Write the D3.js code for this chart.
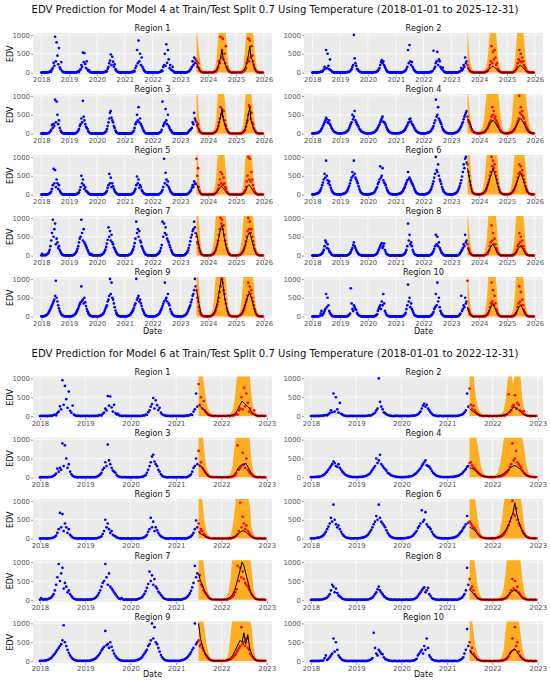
<!DOCTYPE html>
<html>
<head>
<meta charset="utf-8">
<script src="https://cdn.jsdelivr.net/npm/d3@7"></script>
<style>
  body { margin: 0; background: #fff; }
  svg text { font-family: "DejaVu Sans", sans-serif; }
</style>
</head>
<body>
<div id="chart"></div>
<script>
/* DATA */
// observed EDV, 3 readings a month (1st, 11th, 21st), 2018-01 .. 2025-12, one line per year
const region1Edv = [
  0,5,0, 10,0,5, 0,10,5, 15,10,30, 40,20,80, 120,260,180, 950,300,800, 450,220,650, 140,90,280, 40,20,10, 5,10,0, 5,0,10,
  0,5,10, 0,5,0, 10,0,5, 10,5,20, 30,15,60, 90,200,150, 530,280,520, 230,120,300, 80,40,60, 20,10,5, 0,10,5, 0,5,0,
  5,0,10, 0,5,0, 5,10,0, 10,20,15, 40,30,100, 150,250,320, 480,200,420, 290,160,220, 90,50,30, 20,10,5, 10,0,5, 0,10,5,
  0,5,0, 10,0,5, 0,5,10, 20,10,30, 50,30,120, 180,600,250, 850,300,500, 200,400,150, 100,60,30, 20,10,5, 0,5,10, 0,5,0,
  5,0,10, 0,10,5, 5,0,10, 15,20,30, 60,40,150, 200,500,180, 750,260,600, 350,120,200, 80,60,150, 40,10,5, 0,5,10, 5,0,5,
  0,5,0, 10,0,5, 0,5,10, 10,20,30, 50,80,100, 150,300,200, 400,250,350, 300,150,250, 120,60,30, 20,10,5, 0,5,10, 5,0,0,
  0,5,10, 0,5,0, 10,5,20, 30,20,60, 100,150,300, 250,950,400, 600,900,350, 500,250,700, 150,100,60, 30,20,10, 5,0,10, 0,5,0,
  5,0,10, 0,5,0, 10,0,15, 20,30,50, 80,120,250, 350,900,300, 850,400,700, 450,300,200, 120,80,40, 20,10,5, 0,10,5, 0,5,0
];
const region2Edv = [
  0,5,0, 5,0,10, 0,5,10, 10,15,20, 30,20,50, 80,150,100, 600,120,500, 180,90,350, 60,40,20, 10,5,0, 5,0,10, 0,5,0,
  5,0,5, 0,10,0, 5,0,10, 10,20,15, 20,40,60, 90,150,200, 1000,380,250, 180,100,80, 50,30,20, 10,5,0, 0,5,10, 5,0,5,
  0,5,0, 10,0,5, 0,5,10, 15,10,20, 30,50,80, 120,200,280, 330,250,300, 200,150,100, 60,30,20, 10,5,0, 5,10,0, 0,5,0,
  5,0,10, 0,5,0, 10,0,5, 10,20,30, 40,60,100, 150,600,250, 730,300,200, 280,150,100, 60,40,20, 10,5,0, 0,10,5, 0,5,0,
  0,5,0, 5,0,10, 0,10,5, 20,15,30, 50,580,100, 150,250,300, 550,200,350, 300,150,120, 80,130,40, 20,10,5, 0,5,0, 10,0,5,
  5,0,10, 0,5,0, 5,10,0, 10,20,30, 40,120,60, 100,200,150, 400,250,300, 200,120,100, 50,30,20, 10,5,0, 5,0,10, 0,5,0,
  0,5,10, 0,5,0, 10,5,15, 20,30,50, 80,120,200, 300,700,250, 550,350,600, 400,200,250, 100,60,40, 20,10,5, 0,10,5, 5,0,5,
  5,0,10, 0,5,0, 10,0,15, 20,30,60, 90,150,250, 350,600,300, 500,280,400, 300,200,150, 100,50,30, 15,10,5, 0,5,10, 0,5,0
];
const region3Edv = [
  0,5,0, 5,0,10, 0,5,10, 10,20,40, 60,100,230, 150,250,200, 900,300,850, 500,250,350, 150,80,40, 20,10,5, 0,5,10, 0,5,0,
  5,0,10, 0,5,0, 10,0,5, 15,30,50, 80,120,200, 250,400,300, 870,450,350, 250,180,150, 120,60,30, 15,10,5, 0,10,5, 0,5,0,
  0,5,0, 10,0,5, 0,5,10, 15,20,40, 60,120,200, 300,400,550, 600,420,350, 300,200,150, 80,40,20, 10,5,0, 5,0,10, 0,5,0,
  5,0,10, 0,5,0, 10,5,0, 10,30,50, 80,150,250, 300,500,350, 700,300,400, 250,200,150, 100,60,30, 15,10,5, 0,5,10, 5,0,5,
  0,5,0, 10,0,5, 0,10,5, 20,30,50, 100,850,200, 250,300,650, 350,250,500, 200,150,100, 80,40,20, 10,5,0, 5,10,0, 0,5,0,
  5,0,10, 0,5,0, 5,10,0, 15,30,60, 80,100,120, 150,300,250, 550,400,350, 300,200,250, 120,60,30, 15,10,5, 0,5,10, 0,5,0,
  0,5,10, 0,5,0, 10,5,20, 30,50,80, 120,200,300, 400,700,500, 650,450,600, 350,250,200, 120,80,40, 20,10,5, 0,10,5, 5,0,5,
  5,0,10, 0,5,0, 10,0,15, 25,40,70, 100,180,280, 350,500,750, 700,400,550, 300,250,150, 100,60,30, 15,10,5, 0,5,10, 0,5,0
];
const region4Edv = [
  5,10,5, 10,15,10, 20,15,30, 40,60,80, 120,150,200, 250,300,350, 420,380,300, 280,350,250, 200,150,120, 80,60,40, 30,20,15, 10,5,10,
  10,5,10, 15,10,20, 20,30,40, 60,80,100, 150,200,250, 300,500,380, 450,600,350, 300,250,220, 180,120,100, 70,50,40, 30,20,15, 10,10,5,
  5,10,5, 10,15,10, 20,30,30, 50,70,90, 120,160,200, 240,300,350, 400,450,320, 300,280,230, 170,120,90, 60,40,30, 20,15,10, 10,5,10,
  10,5,10, 15,10,15, 20,25,35, 45,60,80, 100,140,180, 220,280,300, 380,400,320, 260,240,200, 150,110,80, 60,40,30, 20,15,10, 10,5,5,
  5,10,5, 10,15,20, 25,30,40, 60,80,120, 150,200,280, 350,900,450, 500,700,400, 350,300,250, 180,120,90, 60,40,30, 20,15,10, 10,5,10,
  10,5,10, 15,10,20, 25,35,50, 70,90,120, 160,200,260, 300,380,450, 500,550,600, 450,350,300, 250,180,120, 80,60,40, 30,20,15, 10,10,5,
  10,5,10, 15,20,25, 30,40,60, 80,120,150, 200,250,300, 350,450,700, 500,600,400, 450,350,300, 250,200,150, 100,70,50, 30,20,15, 10,10,5,
  10,5,10, 15,20,25, 30,45,60, 90,120,160, 200,260,320, 400,1000,550, 700,500,600, 450,400,300, 250,180,140, 90,60,40, 30,20,15, 10,5,10
];
const region5Edv = [
  0,5,0, 10,0,5, 0,5,10, 10,20,30, 50,80,150, 250,680,300, 650,200,400, 300,150,250, 100,60,30, 15,10,5, 0,5,10, 5,0,5,
  5,0,10, 0,5,0, 10,0,5, 10,15,30, 40,60,120, 200,500,300, 400,250,150, 200,100,80, 60,30,20, 10,5,0, 5,10,0, 0,5,0,
  0,5,0, 5,10,0, 5,0,10, 15,20,40, 60,100,180, 250,550,300, 450,200,300, 220,150,100, 60,40,20, 10,5,0, 0,5,10, 5,0,5,
  5,0,10, 0,5,0, 10,5,0, 10,25,40, 60,100,150, 250,480,300, 400,180,250, 200,120,90, 50,30,20, 10,5,0, 5,0,10, 0,5,0,
  0,5,0, 10,0,5, 0,10,5, 20,30,50, 80,120,200, 950,300,580, 400,250,350, 200,150,100, 60,40,20, 10,5,0, 5,10,0, 0,5,0,
  5,0,10, 0,5,0, 5,10,0, 15,20,40, 60,90,120, 180,250,200, 350,280,300, 950,500,700, 200,100,40, 15,10,5, 0,5,10, 0,5,0,
  0,5,10, 0,5,0, 10,5,15, 20,40,60, 100,150,250, 400,600,300, 550,250,450, 300,200,150, 80,50,30, 15,10,5, 0,10,5, 5,0,5,
  5,0,10, 0,5,0, 10,0,15, 20,40,70, 120,200,350, 500,1000,400, 950,350,600, 400,250,150, 80,50,30, 15,10,5, 0,5,10, 0,5,0
];
const region6Edv = [
  5,10,5, 10,15,20, 25,30,45, 60,90,130, 180,250,320, 400,550,450, 900,500,380, 300,350,250, 180,120,80, 50,30,20, 15,10,5, 10,5,10,
  10,5,10, 15,20,25, 35,45,60, 90,130,180, 230,300,380, 450,600,500, 900,550,450, 400,350,300, 220,150,100, 60,40,25, 15,10,10, 5,10,5,
  5,10,5, 10,20,25, 30,40,55, 80,120,160, 200,280,330, 400,750,450, 500,700,380, 320,300,250, 180,120,80, 50,30,20, 15,10,5, 10,5,10,
  10,5,10, 15,20,25, 30,45,60, 90,130,170, 210,270,320, 380,600,420, 450,400,350, 300,270,220, 160,110,70, 45,30,20, 15,10,5, 10,5,5,
  5,10,5, 15,20,30, 40,55,70, 110,150,210, 280,350,450, 550,1000,650, 600,800,500, 400,350,280, 200,140,90, 60,40,25, 15,10,10, 5,10,5,
  10,5,10, 15,20,30, 40,55,80, 120,170,230, 300,380,480, 600,800,700, 950,1000,850, 800,600,500, 350,250,150, 80,50,30, 20,15,10, 10,5,10,
  10,5,10, 15,20,30, 45,60,90, 130,180,250, 320,400,500, 600,1000,750, 900,700,800, 600,500,400, 300,200,130, 70,45,30, 20,15,10, 10,5,10,
  10,5,10, 15,20,30, 40,55,80, 120,160,220, 280,350,450, 550,800,600, 750,550,650, 500,400,320, 220,150,100, 60,40,25, 15,10,10, 5,10,5
];
const region7Edv = [
  5,50,10, 5,20,10, 15,30,40, 60,100,150, 250,400,600, 950,500,700, 850,300,450, 350,200,250, 150,100,60, 30,20,10, 5,10,5, 10,5,0,
  5,10,5, 10,5,15, 20,30,50, 80,120,180, 250,350,450, 500,950,600, 400,700,350, 300,250,200, 150,100,60, 30,20,50, 10,5,10, 5,10,5,
  5,10,5, 10,5,15, 20,35,50, 70,110,160, 230,320,420, 750,500,650, 400,550,350, 300,220,180, 130,90,50, 30,20,10, 5,10,5, 10,5,0,
  5,10,5, 10,5,15, 25,35,50, 80,120,170, 240,330,450, 900,600,700, 500,650,400, 350,250,200, 150,100,60, 30,20,10, 5,10,5, 10,5,0,
  5,10,5, 10,5,15, 25,40,60, 90,130,200, 280,900,500, 850,600,750, 550,450,400, 350,280,220, 150,100,60, 30,20,10, 5,10,5, 10,5,0,
  5,10,5, 10,5,15, 25,40,60, 90,140,200, 280,380,480, 550,650,700, 900,750,600, 500,350,300, 200,130,80, 40,25,15, 5,10,5, 10,5,0,
  5,10,5, 10,15,20, 30,45,70, 100,150,220, 300,400,550, 700,1000,850, 950,700,800, 550,400,300, 200,130,80, 40,25,15, 10,5,10, 5,10,5,
  5,10,5, 10,15,20, 30,45,70, 100,150,210, 280,380,500, 650,1000,700, 900,600,700, 500,380,280, 180,120,70, 40,25,15, 10,5,10, 5,10,5
];
const region8Edv = [
  0,5,0, 5,0,10, 0,5,10, 10,20,30, 40,60,100, 150,250,400, 350,200,300, 180,120,90, 60,30,20, 10,5,0, 5,0,10, 0,5,0,
  5,0,10, 0,5,0, 10,0,5, 10,15,30, 40,60,100, 150,200,280, 350,250,200, 150,100,70, 40,25,15, 10,5,0, 5,10,0, 0,5,0,
  0,5,0, 5,10,0, 5,0,10, 15,20,40, 60,100,150, 200,250,300, 330,200,250, 320,150,100, 50,30,20, 10,5,0, 0,5,10, 5,0,5,
  5,0,10, 0,5,0, 10,5,0, 10,25,40, 60,100,150, 250,850,400, 550,300,350, 250,150,100, 50,30,20, 10,5,0, 5,0,10, 0,5,0,
  0,5,0, 10,0,5, 0,10,5, 20,30,50, 80,120,180, 250,550,300, 500,250,350, 200,150,100, 60,40,20, 10,5,0, 5,10,0, 0,5,0,
  5,0,10, 0,5,0, 5,10,0, 15,30,50, 80,120,150, 200,300,250, 550,350,400, 300,200,150, 80,50,30, 15,10,5, 0,5,10, 0,5,0,
  0,5,10, 0,5,0, 10,5,15, 20,40,60, 100,150,250, 350,800,400, 600,300,450, 300,200,150, 80,50,30, 15,10,5, 0,10,5, 5,0,5,
  5,0,10, 0,5,0, 10,0,15, 20,40,60, 90,150,250, 300,600,350, 500,250,400, 250,180,120, 70,40,25, 15,10,5, 0,5,10, 0,5,0
];
const region9Edv = [
  5,10,5, 10,15,20, 30,40,60, 80,120,160, 200,250,300, 350,400,450, 550,950,500, 400,300,220, 150,100,60, 40,25,15, 10,5,10, 5,10,5,
  5,10,5, 10,15,25, 35,45,65, 90,130,170, 220,280,330, 380,800,420, 450,350,500, 380,280,200, 140,90,60, 35,20,15, 10,5,10, 5,10,5,
  5,10,5, 10,20,25, 40,50,70, 100,150,200, 250,300,400, 450,550,1000, 600,900,500, 450,350,250, 160,100,60, 35,20,15, 10,5,10, 5,10,5,
  5,10,5, 10,20,25, 35,50,70, 100,140,180, 230,300,350, 1000,450,500, 550,400,450, 350,280,200, 150,100,60, 35,20,15, 10,5,10, 5,10,5,
  5,10,5, 10,15,25, 35,45,65, 90,130,170, 220,280,340, 400,900,450, 500,400,600, 350,300,200, 140,90,60, 35,20,15, 10,5,10, 5,10,5,
  5,10,5, 10,15,25, 35,50,70, 100,150,200, 250,300,380, 450,550,600, 700,1000,800, 700,500,400, 250,150,90, 45,25,15, 10,5,10, 5,10,5,
  5,10,5, 10,20,30, 45,60,90, 130,180,250, 320,400,500, 650,800,1000, 1000,900,700, 600,450,350, 220,140,80, 40,25,15, 10,5,10, 5,10,5,
  5,10,5, 10,20,30, 45,60,90, 120,170,230, 300,380,450, 550,900,650, 800,600,700, 500,400,300, 200,130,80, 40,25,15, 10,5,10, 5,10,5
];
const region10Edv = [
  0,5,0, 5,0,10, 0,5,10, 10,20,80, 150,30,60, 100,150,200, 600,250,500, 300,150,100, 60,30,20, 10,5,0, 5,0,10, 0,5,0,
  5,0,10, 0,5,0, 10,0,5, 10,15,30, 50,80,750, 350,200,150, 300,250,200, 180,100,60, 40,25,15, 10,5,0, 5,10,0, 0,5,0,
  0,5,0, 5,10,0, 5,0,10, 15,20,40, 60,150,200, 250,300,200, 400,300,600, 350,150,100, 50,30,20, 10,5,0, 0,5,10, 5,0,5,
  5,0,10, 0,5,0, 10,5,0, 10,25,40, 60,100,200, 300,850,400, 500,250,350, 200,150,100, 50,30,20, 10,5,0, 5,0,10, 0,5,0,
  0,5,0, 10,0,5, 0,10,5, 20,30,50, 80,120,200, 250,600,300, 900,400,500, 250,150,100, 60,40,20, 10,5,0, 5,10,0, 0,5,0,
  5,0,10, 0,5,0, 5,10,0, 15,30,50, 80,550,150, 200,300,250, 500,350,400, 950,200,150, 80,50,30, 15,10,5, 0,5,10, 0,5,0,
  0,5,10, 0,5,0, 10,5,15, 20,40,60, 100,150,250, 350,900,400, 700,300,550, 350,200,150, 80,50,30, 15,10,5, 0,10,5, 5,0,5,
  5,0,10, 0,5,0, 10,0,15, 20,40,60, 90,150,250, 350,800,400, 650,300,450, 300,180,120, 70,40,25, 15,10,5, 0,5,10, 0,5,0
];

// Model 4: prediction and upper bound, twice a month (1st, 16th) from 2023-08 to 2025-12
const region1PredM4 = [
  250,180, 100,50, 20,10, 5,5, 0,5,
  0,5, 0,5, 10,20, 30,60, 100,200, 300,450, 600,350, 300,200, 120,60, 30,15, 5,5, 0,5,
  0,5, 0,5, 10,20, 40,80, 120,220, 350,500, 700,400, 350,220, 120,60, 25,10, 5,5, 0,5
];
const region1UpperM4 = [
  1200,900, 600,350, 150,80, 40,30, 20,20,
  20,20, 25,30, 50,80, 150,300, 600,1100, 1200,1200, 1200,1200, 1200,1100, 700,350, 150,80, 40,30, 20,20,
  20,20, 25,30, 50,80, 150,350, 700,1100, 1200,1200, 1200,1200, 1200,1000, 600,300, 120,60, 40,30, 20,20
];
const region2PredM4 = [
  120,80, 50,30, 15,10, 5,5, 0,5,
  0,5, 0,5, 10,15, 25,40, 60,100, 130,160, 170,140, 120,90, 60,35, 20,10, 5,5, 0,5,
  0,5, 0,5, 10,15, 25,45, 70,110, 150,200, 190,160, 130,90, 60,35, 20,10, 5,5, 0,5
];
const region2UpperM4 = [
  1200,700, 350,200, 100,60, 40,30, 20,20,
  20,20, 25,30, 50,80, 150,300, 600,1000, 1200,1200, 1200,1200, 1200,900, 500,250, 120,60, 40,30, 20,20,
  20,20, 25,30, 50,80, 150,350, 700,1100, 1200,1200, 1200,1200, 1100,800, 400,200, 100,50, 40,30, 20,20
];
const region3PredM4 = [
  250,180, 100,50, 20,10, 5,5, 0,5,
  0,5, 0,5, 10,20, 40,70, 120,220, 350,500, 650,400, 280,180, 100,50, 20,10, 5,5, 0,5,
  0,5, 0,5, 10,20, 40,80, 130,250, 400,550, 700,350, 250,150, 80,40, 20,10, 5,5, 0,5
];
const region3UpperM4 = [
  1200,1000, 500,250, 100,60, 40,30, 20,20,
  20,20, 25,30, 60,100, 200,400, 900,1200, 1200,1200, 1200,1200, 1000,700, 400,200, 100,50, 30,25, 20,20,
  20,20, 25,30, 60,100, 200,450, 900,1200, 1200,1200, 1200,1100, 800,600, 300,150, 80,40, 30,25, 20,20
];
const region4PredM4 = [
  400,350, 280,200, 120,70, 40,25, 15,10,
  10,15, 20,30, 45,70, 100,140, 190,240, 290,330, 350,320, 280,230, 170,120, 70,40, 25,15, 10,10,
  10,15, 20,30, 45,75, 110,150, 200,260, 320,380, 400,350, 300,240, 170,120, 70,40, 25,15, 10,10
];
const region4UpperM4 = [
  1200,900, 500,300, 150,80, 50,40, 30,30,
  60,80, 120,200, 350,600, 900,1200, 1200,1200, 1200,1200, 1200,1200, 1200,1200, 1200,900, 600,350, 150,80, 60,50,
  60,80, 120,200, 350,650, 1000,1200, 1200,1200, 1200,1200, 1200,1200, 1200,1200, 1100,800, 500,300, 120,70, 50,40
];
const region5PredM4 = [
  300,200, 100,50, 15,10, 5,5, 0,5,
  0,5, 0,5, 10,15, 30,50, 80,130, 180,220, 200,170, 130,90, 50,25, 10,5, 5,5, 0,5,
  0,5, 0,5, 10,15, 30,55, 90,150, 220,260, 240,190, 140,90, 50,25, 10,5, 5,5, 0,5
];
const region5UpperM4 = [
  1200,1000, 500,200, 80,40, 30,20, 20,20,
  20,20, 25,30, 60,100, 250,500, 1000,1200, 1200,1200, 1200,1200, 1100,700, 300,150, 60,40, 30,20, 20,20,
  20,20, 25,30, 50,80, 200,400, 900,1200, 1200,1200, 1200,1200, 900,500, 250,120, 60,40, 30,20, 20,20
];
const region6PredM4 = [
  700,550, 350,200, 80,40, 20,15, 10,10,
  10,15, 25,35, 60,100, 150,220, 300,400, 500,600, 700,600, 500,380, 250,150, 70,40, 20,15, 10,10,
  10,15, 25,35, 55,90, 140,200, 270,350, 450,520, 550,480, 400,300, 200,120, 60,30, 20,15, 10,10
];
const region6UpperM4 = [
  1200,1200, 1000,600, 250,120, 60,40, 30,30,
  30,40, 70,120, 250,500, 900,1200, 1200,1200, 1200,1200, 1200,1200, 1200,1200, 900,500, 200,100, 50,40, 30,30,
  30,40, 70,120, 250,500, 900,1200, 1200,1200, 1200,1200, 1200,1200, 1200,1100, 800,400, 180,90, 50,40, 30,30
];
const region7PredM4 = [
  600,450, 280,150, 50,25, 10,10, 5,10,
  5,10, 15,25, 40,70, 120,200, 300,450, 600,750, 800,650, 450,300, 170,90, 35,20, 10,10, 5,10,
  5,10, 15,25, 40,70, 110,180, 260,380, 500,600, 620,500, 380,260, 150,80, 30,15, 10,10, 5,10
];
const region7UpperM4 = [
  1200,1200, 900,500, 200,100, 50,40, 30,30,
  30,40, 60,100, 200,400, 800,1200, 1200,1200, 1200,1200, 1200,1200, 1200,1100, 700,350, 150,80, 40,30, 30,30,
  30,40, 60,100, 200,400, 800,1200, 1200,1200, 1200,1200, 1200,1200, 1200,1000, 600,300, 130,70, 40,30, 30,30
];
const region8PredM4 = [
  200,140, 70,35, 12,8, 5,5, 0,5,
  0,5, 0,5, 10,20, 35,60, 100,160, 230,280, 300,250, 180,120, 60,30, 12,8, 5,5, 0,5,
  0,5, 0,5, 10,20, 35,60, 90,140, 200,240, 250,210, 160,100, 50,25, 12,8, 5,5, 0,5
];
const region8UpperM4 = [
  1200,800, 400,200, 80,40, 30,20, 20,20,
  20,20, 25,30, 60,120, 300,600, 1100,1200, 1200,1200, 1200,1200, 1200,900, 400,200, 80,40, 30,20, 20,20,
  20,20, 25,30, 60,120, 300,600, 1100,1200, 1200,1200, 1200,1200, 1100,800, 350,150, 70,40, 30,20, 20,20
];
const region9PredM4 = [
  700,550, 350,200, 80,40, 15,10, 5,10,
  5,10, 20,30, 50,90, 150,250, 380,550, 750,950, 1000,800, 550,380, 220,120, 50,25, 15,10, 5,10,
  5,10, 20,30, 50,85, 140,220, 320,420, 520,600, 620,520, 420,300, 180,100, 45,25, 15,10, 5,10
];
const region9UpperM4 = [
  1200,1200, 900,500, 200,100, 50,40, 30,30,
  30,40, 60,100, 200,450, 900,1200, 1200,1200, 1200,1200, 1200,1200, 1200,1100, 700,350, 150,80, 40,30, 30,30,
  30,40, 60,100, 200,450, 900,1200, 1200,1200, 1200,1200, 1200,1200, 1200,1000, 600,300, 130,70, 40,30, 30,30
];
const region10PredM4 = [
  250,150, 70,35, 12,8, 5,5, 0,5,
  0,5, 0,5, 10,20, 35,60, 100,170, 250,320, 350,280, 200,130, 60,30, 12,8, 5,5, 0,5,
  0,5, 0,5, 10,20, 35,60, 100,160, 230,290, 300,250, 170,110, 50,25, 12,8, 5,5, 0,5
];
const region10UpperM4 = [
  1200,800, 400,200, 80,40, 30,20, 20,20,
  20,20, 25,30, 60,120, 300,600, 1100,1200, 1200,1200, 1200,1200, 1200,800, 350,150, 70,40, 30,20, 20,20,
  20,20, 25,30, 60,120, 300,650, 1100,1200, 1200,1200, 1200,1200, 1100,700, 300,150, 70,40, 30,20, 20,20
];

// Model 6: prediction and upper bound, twice a month (1st, 16th) from 2021-07 to 2022-12
const region1PredM6 = [
  300,250, 200,150, 80,40, 20,10, 5,5, 0,5,
  0,5, 0,5, 10,15, 30,60, 100,200, 300,400, 350,300, 250,200, 100,50, 20,10, 5,5, 0,5
];
const region1UpperM6 = [
  1200,1200, 1100,800, 400,200, 100,50, 30,20, 20,20,
  20,20, 20,30, 50,80, 150,400, 900,1200, 1200,1200, 1200,1200, 1200,1100, 500,200, 80,40, 30,20, 20,20
];
const region2PredM6 = [
  200,150, 120,80, 50,30, 15,10, 5,5, 0,5,
  0,5, 0,5, 10,15, 25,40, 70,120, 180,220, 250,200, 160,120, 60,30, 15,10, 5,5, 0,5
];
const region2UpperM6 = [
  1200,1100, 1200,600, 300,150, 80,40, 30,20, 20,20,
  20,20, 20,30, 40,70, 150,400, 900,1200, 1200,800, 1200,1200, 1200,1000, 400,150, 60,30, 20,20, 20,20
];
const region3PredM6 = [
  350,300, 250,180, 90,40, 15,10, 5,5, 0,5,
  0,5, 0,5, 10,20, 40,80, 150,250, 300,350, 320,380, 280,200, 90,40, 15,10, 5,5, 0,5
];
const region3UpperM6 = [
  1200,1200, 1200,700, 300,150, 60,40, 30,20, 20,20,
  20,20, 20,30, 50,100, 300,800, 1200,1200, 1200,1200, 1200,1200, 1200,1000, 400,150, 60,30, 20,20, 20,20
];
const region4PredM6 = [
  250,240, 220,180, 140,100, 60,35, 20,15, 10,10,
  10,15, 20,30, 45,70, 100,140, 180,230, 270,300, 310,290, 250,200, 150,100, 60,35, 20,15, 10,10
];
const region4UpperM6 = [
  1200,1200, 1200,1200, 900,600, 300,150, 70,40, 30,30,
  30,40, 80,150, 300,600, 1000,1200, 1200,1200, 1200,1200, 1200,1200, 1200,1200, 1000,700, 350,150, 60,40, 30,30
];
const region5PredM6 = [
  160,130, 100,70, 40,20, 10,5, 5,5, 0,5,
  0,5, 0,5, 10,15, 30,50, 80,130, 170,210, 200,170, 120,80, 40,20, 10,5, 5,5, 0,5
];
const region5UpperM6 = [
  1200,1200, 1000,500, 200,100, 50,30, 20,20, 20,20,
  20,20, 20,30, 50,90, 300,700, 1200,1200, 1200,1200, 1200,1200, 1200,900, 300,120, 50,30, 20,20, 20,20
];
const region6PredM6 = [
  300,280, 250,200, 130,80, 40,20, 10,10, 5,10,
  10,15, 25,35, 60,100, 150,220, 300,400, 550,700, 950,650, 450,300, 180,100, 40,20, 10,10, 5,10
];
const region6UpperM6 = [
  1200,1200, 1200,1000, 600,300, 120,60, 30,20, 20,20,
  20,30, 60,100, 200,450, 900,1200, 1200,1200, 1200,1200, 1200,1200, 1200,1100, 700,300, 100,50, 30,20, 20,20
];
const region7PredM6 = [
  700,500, 400,250, 150,80, 30,15, 10,10, 5,10,
  5,10, 15,25, 40,80, 150,250, 400,600, 800,1000, 900,700, 500,300, 150,80, 30,15, 10,10, 5,10
];
const region7UpperM6 = [
  1200,1200, 1200,800, 400,200, 80,40, 30,20, 20,20,
  20,30, 50,100, 250,600, 1200,1200, 1200,1200, 1200,1200, 1200,1200, 1200,1200, 800,300, 100,50, 30,20, 20,20
];
const region8PredM6 = [
  280,220, 170,110, 60,30, 12,8, 5,5, 0,5,
  0,5, 0,5, 10,20, 35,60, 100,150, 200,240, 260,220, 170,110, 60,30, 12,8, 5,5, 0,5
];
const region8UpperM6 = [
  1200,1200, 1200,900, 400,200, 80,40, 30,20, 20,20,
  20,20, 25,30, 60,120, 300,700, 1200,1200, 1200,1200, 1200,1200, 1200,1000, 500,200, 80,40, 30,20, 20,20
];
const region9PredM6 = [
  1000,600, 400,250, 150,80, 30,15, 10,10, 5,10,
  5,10, 15,25, 40,80, 150,250, 350,450, 550,500, 750,450, 700,350, 200,100, 30,15, 10,10, 5,10
];
const region9UpperM6 = [
  1200,1200, 1200,900, 500,250, 100,50, 30,20, 20,20,
  20,30, 50,100, 250,700, 1200,1200, 1200,1200, 1200,1200, 1200,1200, 1200,1200, 900,400, 120,50, 30,20, 20,20
];
const region10PredM6 = [
  300,200, 150,100, 50,25, 12,8, 5,5, 0,5,
  0,5, 0,5, 10,20, 35,60, 100,170, 250,300, 320,250, 170,110, 50,25, 12,8, 5,5, 0,5
];
const region10UpperM6 = [
  1200,1200, 800,400, 200,100, 50,30, 20,20, 20,20,
  20,20, 20,30, 50,100, 300,800, 1200,1200, 1200,1200, 1200,1200, 1100,700, 300,120, 50,30, 20,20, 20,20
];

const regionNames = ["Region 1", "Region 2", "Region 3", "Region 4", "Region 5",
  "Region 6", "Region 7", "Region 8", "Region 9", "Region 10"];
const yTicks = [0, 500, 1000];

/* TABLES BUILT FROM THE ARRAYS */
const observed = [region1Edv, region2Edv, region3Edv, region4Edv, region5Edv,
  region6Edv, region7Edv, region8Edv, region9Edv, region10Edv];

const figures = [
  {
    title: "EDV Prediction for Model 4 at Train/Test Split 0.7 Using Temperature (2018-01-01 to 2025-12-31)",
    years: 8,
    testStart: new Date(2023, 7, 1),
    preds: [region1PredM4, region2PredM4, region3PredM4, region4PredM4, region5PredM4,
      region6PredM4, region7PredM4, region8PredM4, region9PredM4, region10PredM4],
    uppers: [region1UpperM4, region2UpperM4, region3UpperM4, region4UpperM4, region5UpperM4,
      region6UpperM4, region7UpperM4, region8UpperM4, region9UpperM4, region10UpperM4],
    xDomain: [new Date(2017, 8, 14), new Date(2026, 3, 18)],
    titleY: 13, top: 33, step: 61, dateY: 334
  },
  {
    title: "EDV Prediction for Model 6 at Train/Test Split 0.7 Using Temperature (2018-01-01 to 2022-12-31)",
    years: 5,
    testStart: new Date(2021, 6, 1),
    preds: [region1PredM6, region2PredM6, region3PredM6, region4PredM6, region5PredM6,
      region6PredM6, region7PredM6, region8PredM6, region9PredM6, region10PredM6],
    uppers: [region1UpperM6, region2UpperM6, region3UpperM6, region4UpperM6, region5UpperM6,
      region6UpperM6, region7UpperM6, region8UpperM6, region9UpperM6, region10UpperM6],
    xDomain: [new Date(2017, 10, 6), new Date(2023, 1, 12)],
    titleY: 356.5, top: 376.5, step: 61.25, dateY: 677
  }
];

/* LAYOUT */
const width = 550, height = 683;
const colX = [33, 304], plotW = 239, plotH = 41.5;

const svg = d3.select("#chart").append("svg")
  .attr("width", width)
  .attr("height", height);

const defs = svg.append("defs");

// observation i -> date (3 a month)
function obsDate(i) {
  const yr = 2018 + Math.floor(i / 36), m = Math.floor((i % 36) / 3);
  return new Date(yr, m, [1, 11, 21][i % 3]);
}
// prediction j -> date (2 a month from the split)
function predDate(start, j) {
  return new Date(start.getFullYear(), start.getMonth() + Math.floor(j / 2), j % 2 ? 16 : 1);
}

figures.forEach((fig, f) => {
  svg.append("text")
    .attr("x", width / 2)
    .attr("y", fig.titleY)
    .attr("text-anchor", "middle")
    .attr("font-size", 10.1)
    .attr("fill", "#111")
    .text(fig.title);

  const yearTicks = d3.range(2018, 2018 + fig.years + 1).map(y => new Date(y, 0, 1));

  regionNames.forEach((name, k) => {
    const col = k % 2, row = Math.floor(k / 2);
    const left = colX[col], top = fig.top + row * fig.step;

    const xScale = d3.scaleTime().domain(fig.xDomain).range([left, left + plotW]);
    const yScale = d3.scaleLinear().domain([-50, 1050]).range([top + plotH, top]);

    const g = svg.append("g");
    const clipId = `clip-${f}-${k}`;
    defs.append("clipPath").attr("id", clipId)
      .append("rect").attr("x", left).attr("y", top).attr("width", plotW).attr("height", plotH);

    g.append("rect")
      .attr("x", left).attr("y", top)
      .attr("width", plotW).attr("height", plotH)
      .attr("fill", "#ebebeb");

    // grid
    g.selectAll(".vgrid").data(yearTicks).join("line")
      .attr("x1", d => xScale(d)).attr("x2", d => xScale(d))
      .attr("y1", top).attr("y2", top + plotH)
      .attr("stroke", "#fff").attr("stroke-width", 0.7);
    g.selectAll(".hgrid").data(yTicks).join("line")
      .attr("x1", left).attr("x2", left + plotW)
      .attr("y1", d => yScale(d)).attr("y2", d => yScale(d))
      .attr("stroke", "#fff").attr("stroke-width", 0.7);

    // axes
    const xAxis = d3.axisBottom(xScale).tickValues(yearTicks)
      .tickFormat(d3.timeFormat("%Y")).tickSize(2).tickPadding(1);
    const yAxis = d3.axisLeft(yScale).tickValues(yTicks)
      .tickFormat(d3.format("d")).tickSize(2).tickPadding(1);

    const xg = g.append("g").attr("transform", `translate(0,${top + plotH})`).call(xAxis);
    const yg = g.append("g").attr("transform", `translate(${left},0)`).call(yAxis);
    [xg, yg].forEach(a => {
      a.select(".domain").remove();
      a.selectAll(".tick line").attr("stroke", "#555").attr("stroke-width", 0.6);
      a.selectAll(".tick text").attr("fill", "#555").attr("font-size", 6.9)
        .attr("font-family", "DejaVu Sans");
    });

    // marks
    const plot = g.append("g").attr("clip-path", `url(#${clipId})`);
    const obs = observed[k].slice(0, fig.years * 36).map((v, i) => ({ date: obsDate(i), v }));
    const train = obs.filter(d => d.date < fig.testStart);
    const test = obs.filter(d => d.date >= fig.testStart);
    const pred = fig.preds[k].map((v, j) => ({
      date: predDate(fig.testStart, j), v, up: fig.uppers[k][j]
    }));

    plot.selectAll(".train").data(train).join("circle")
      .attr("cx", d => xScale(d.date))
      .attr("cy", d => yScale(d.v))
      .attr("r", 1.35)
      .attr("fill", "#0000ff");

    const band = d3.area()
      .x(d => xScale(d.date))
      .y0(yScale(0))
      .y1(d => yScale(d.up));
    plot.append("path").datum(pred)
      .attr("d", band)
      .attr("fill", "#ffa500")
      .attr("fill-opacity", 0.85);

    plot.selectAll(".test").data(test).join("circle")
      .attr("cx", d => xScale(d.date))
      .attr("cy", d => yScale(d.v))
      .attr("r", 1.35)
      .attr("fill", "#ff0000");

    const line = d3.line().x(d => xScale(d.date)).y(d => yScale(d.v));
    plot.append("path").datum(pred)
      .attr("d", line)
      .attr("fill", "none")
      .attr("stroke", "#000")
      .attr("stroke-width", 1);

    // labels
    g.append("text")
      .attr("x", left + plotW / 2)
      .attr("y", top - 1.7)
      .attr("text-anchor", "middle")
      .attr("font-size", 8.2)
      .attr("fill", "#111")
      .text(name);

    if (col === 0) {
      g.append("text")
        .attr("transform", `translate(13.3,${top + plotH / 2}) rotate(-90)`)
        .attr("text-anchor", "middle")
        .attr("font-size", 8)
        .attr("fill", "#111")
        .text("EDV");
    }
    if (row === 4) {
      g.append("text")
        .attr("x", left + plotW / 2)
        .attr("y", fig.dateY)
        .attr("text-anchor", "middle")
        .attr("font-size", 8)
        .attr("fill", "#111")
        .text("Date");
    }
  });
});
</script>
</body>
</html>
